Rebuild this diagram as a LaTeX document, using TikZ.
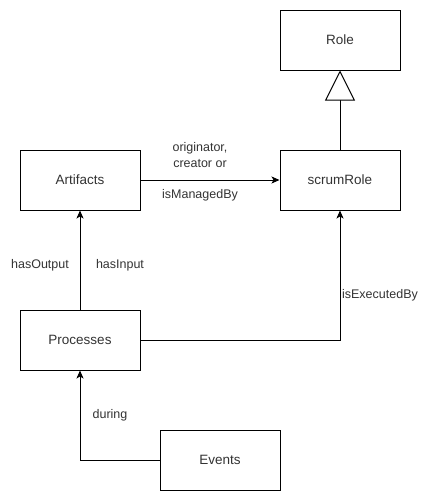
\documentclass[tikz,border=0pt]{standalone}
\usepackage{fontspec}
\setmainfont{Liberation Sans}
\usetikzlibrary{arrows.meta}
\begin{document}
\begin{tikzpicture}[x=1pt,y=-1pt,line width=1pt,
  box/.style={draw=black,fill=white,minimum width=120pt,minimum height=60pt,inner sep=0pt,font=\fontsize{13.5}{16}\selectfont,text=black!80},
  lbl/.style={font=\fontsize{12.5}{15}\selectfont,text=black!80,inner sep=0pt},
  conn/.style={draw=black,-{Stealth[length=8pt,width=7pt,inset=2pt]}},
  gen/.style={draw=black,-{Triangle[open,length=30pt,width=30pt,fill=white]}}]
\useasboundingbox (0,0) rectangle (432,501);
\node[box] (role) at (340,40) {Role};
\node[box] (art) at (80,180) {Artifacts};
\node[box] (scrum) at (340,180) {scrumRole};
\node[box] (proc) at (80,340) {Processes};
\node[box] (ev) at (220,460) {Events};
\draw[gen] (scrum.north) -- (role.south);
\draw[conn] (art.east) -- (scrum.west);
\node[lbl] (l1) at (200,148) {originator,};
\node[lbl] (l2) at (200,164) {creator or};
\node[lbl] (l3) at (200,195) {isManagedBy};
\draw[conn] (proc.north) -- (art.south);
\node[lbl] (l4) at (40,265) {hasOutput};
\node[lbl] (l5) at (120,265) {hasInput};
\draw[conn] (proc.east) -| (scrum.south);
\node[lbl] (l6) at (380,295) {isExecutedBy};
\draw[conn] (ev.west) -| (proc.south);
\node[lbl] (l7) at (110,415) {during};
\end{tikzpicture}
\end{document}
